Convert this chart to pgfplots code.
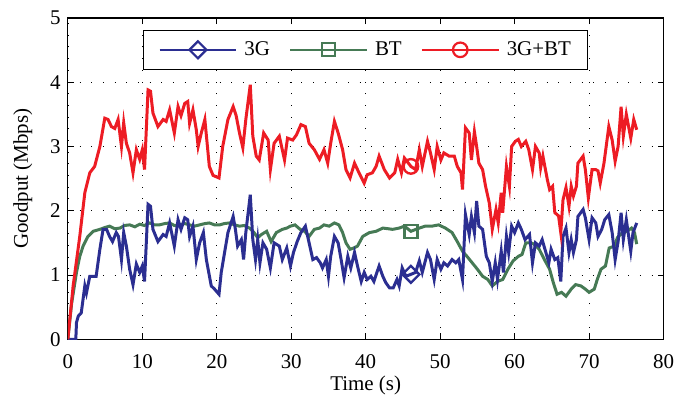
\documentclass[border=0pt]{standalone}
\usepackage{fontspec}
\setmainfont{Liberation Serif}
\usepackage{pgfplots}
\pgfplotsset{compat=1.18}
\definecolor{c3g}{RGB}{43,46,145}
\definecolor{cbt}{RGB}{70,122,85}
\definecolor{cboth}{RGB}{237,28,36}
\begin{document}
\fontsize{21}{25}\selectfont
\begin{tikzpicture}
\begin{axis}[
  scale only axis, width=597pt, height=322pt,
  xmin=0, xmax=80, ymin=0, ymax=5,
  xtick={0,10,...,80}, ytick={0,1,2,3,4,5},
  grid=major,
  major grid style={black, line width=0.7pt, dash pattern=on 0.9pt off 10.8pt},
  tick align=inside, tick pos=both, major tick length=6pt,
  axis line style={line width=1.3pt},
  tick style={line width=0.8pt, black},
  font=\fontsize{21}{25}\selectfont,
  /pgf/number format/assume math mode=true,
  xticklabel style={yshift=-8pt},
  xlabel={Time (s)}, ylabel={Goodput (Mbps)},
  xlabel style={at={(axis description cs:0.5,-0.145)}, anchor=center},
  ylabel style={at={(axis description cs:-0.0754,0.5)}, anchor=center},
  legend style={at={(0.5,0.963)}, anchor=north, legend columns=3, draw=black, line width=1pt,
    font=\fontsize{21}{25}\selectfont, inner xsep=15pt, inner ysep=9pt,
    /tikz/every odd column/.append style={column sep=5pt},
    /tikz/every even column/.append style={column sep=17pt}},
  legend image code/.code={\draw[mark repeat=2,mark phase=2,#1] plot coordinates {(0pt,0pt) (38.5pt,0pt) (77pt,0pt)};},
]
\addlegendimage{c3g, line width=2.2pt, mark=square, mark size=6pt, mark options={rotate=45, fill=white, solid}}
\addlegendimage{cbt, line width=2.2pt, mark=square, mark size=6.5pt, mark options={fill=white, solid}}
\addlegendimage{cboth, line width=2.2pt, mark=o, mark size=7.3pt, mark options={fill=white, solid}}
\legend{3G, BT, 3G+BT}

% BT
\addplot[cbt, line width=3pt, forget plot] coordinates {
(0,0) (0.5,0.55) (1.16,1.04) (1.6,1.29) (2.05,1.45) (2.7,1.6) (3.4,1.68) (4.3,1.71) (5.0,1.74) (5.6,1.76) (6.3,1.72) (7.0,1.73) (7.6,1.77) (8.3,1.78) (9.0,1.75) (9.65,1.79) (10.3,1.77) (11.0,1.81) (11.6,1.78) (12.3,1.78) (13.0,1.8) (13.67,1.81) (14.3,1.77) (15.0,1.78) (15.7,1.8) (16.35,1.78) (17.0,1.76) (17.7,1.78) (18.4,1.8) (19.0,1.81) (19.7,1.78) (20.4,1.78) (21.0,1.8) (21.7,1.81) (22.4,1.78) (23.05,1.76) (23.7,1.77) (24.4,1.73) (25.0,1.66) (25.5,1.58) (26.0,1.63) (26.7,1.68) (27.3,1.52) (28.0,1.66) (28.8,1.71) (29.4,1.73) (29.9,1.76) (30.5,1.78) (31.2,1.71) (31.8,1.68) (32.4,1.6) (33.1,1.71) (33.8,1.73) (34.4,1.78) (35.1,1.76) (35.8,1.81) (36.4,1.78) (36.9,1.66) (37.35,1.5) (37.9,1.4) (38.4,1.42) (38.9,1.45) (39.6,1.6) (40.5,1.66) (41.4,1.68) (42.3,1.73) (43.0,1.72) (43.6,1.71) (44.5,1.73) (45.2,1.76) (46.07,1.68) (47.2,1.73) (48.0,1.76) (48.9,1.76) (49.8,1.78) (50.7,1.73) (51.6,1.66) (52.3,1.52) (53.0,1.37) (53.6,1.29) (54.3,1.19) (55.0,1.09) (55.7,0.98) (56.4,0.93) (57.0,0.83) (57.7,0.9) (58.4,0.93) (59.1,1.09) (59.8,1.22) (60.5,1.29) (61.0,1.32) (61.5,1.5) (62.2,1.5) (62.6,1.48) (63.3,1.4) (64.0,1.24) (64.7,1.09) (65.2,0.88) (65.7,0.7) (66.3,0.73) (66.9,0.67) (67.6,0.78) (68.2,0.85) (68.9,0.83) (69.5,0.78) (70.0,0.73) (70.7,0.78) (71.1,0.93) (71.6,1.09) (72.2,1.14) (72.7,1.42) (73.4,1.45) (73.8,1.58) (74.5,1.66) (75.1,1.68) (75.7,1.73) (76.1,1.66) (76.4,1.48)
};
% 3G
\addplot[c3g, line width=3pt, forget plot] coordinates {
(0,0) (1.07,0) (1.16,0.26) (1.4,0.36) (1.8,0.41) (2.28,0.83) (2.5,0.72) (2.95,0.98) (3.4,0.98) (3.8,0.98) (4.3,1.4) (4.73,1.71) (5.2,1.71) (5.6,1.6) (6.0,1.52) (6.5,1.66) (6.8,1.6) (7.2,1.24) (7.5,1.66) (7.86,1.45) (8.3,1.09) (8.75,0.85) (9.2,1.17) (9.65,1.04) (10.0,1.14) (10.3,0.9) (10.77,2.1) (11.1,2.07) (11.43,1.71) (12.1,1.52) (12.8,1.63) (13.2,1.6) (13.67,1.81) (14.3,1.45) (14.8,1.86) (15.2,1.71) (15.7,1.89) (16.1,1.86) (16.35,1.6) (16.8,1.76) (17.25,1.24) (17.7,1.5) (18.2,1.66) (18.6,1.24) (19.26,0.83) (19.7,0.78) (20.3,0.7) (20.6,1.04) (21.05,1.35) (21.5,1.66) (22.2,1.91) (22.5,1.71) (22.8,1.45) (23.3,1.55) (23.6,1.24) (23.9,1.66) (24.5,2.25) (24.84,1.55) (25.2,1.24) (25.5,1.55) (25.8,1.19) (26.2,1.5) (26.7,1.4) (27.2,1.11) (27.7,1.5) (28.4,1.45) (28.8,1.24) (29.4,1.42) (29.9,1.14) (30.3,1.35) (30.8,1.52) (31.3,1.66) (31.9,1.76) (32.4,1.5) (32.9,1.24) (33.4,1.27) (33.9,1.19) (34.2,1.11) (34.7,1.24) (35.0,0.98) (35.3,1.29) (35.8,1.6) (36.3,1.5) (36.7,1.24) (37.1,0.96) (37.6,1.29) (38.0,1.11) (38.5,1.35) (38.9,1.14) (39.4,0.9) (39.8,1.04) (40.2,0.93) (40.7,0.98) (41.1,0.9) (41.8,1.14) (42.3,0.98) (42.7,0.88) (43.2,0.8) (43.7,0.8) (44.2,0.93) (44.5,0.83) (44.9,1.11) (45.4,0.98) (46.07,1.01) (46.7,1.04) (47.2,1.22) (47.6,1.04) (48.3,1.35) (48.7,1.24) (49.2,0.93) (49.6,1.24) (50.1,1.09) (50.5,1.19) (51.0,1.14) (51.6,1.24) (52.1,1.19) (52.5,1.24) (53.0,0.93) (53.4,1.94) (53.9,1.63) (54.2,1.91) (54.6,1.66) (54.9,2.15) (55.2,1.76) (55.7,1.71) (56.2,1.29) (56.6,1.19) (57.0,0.9) (57.4,1.19) (57.7,0.93) (58.2,1.37) (58.5,1.04) (58.9,1.6) (59.2,1.35) (59.6,1.76) (60.0,1.66) (60.5,1.81) (60.9,1.71) (61.4,1.55) (62.0,1.63) (62.4,1.19) (62.8,1.5) (63.3,1.45) (63.7,1.55) (64.2,1.35) (64.6,1.19) (64.9,1.4) (65.4,1.24) (65.8,1.27) (66.2,0.9) (66.5,1.6) (66.9,1.73) (67.3,1.35) (67.6,1.55) (67.9,1.35) (68.3,1.55) (68.5,1.91) (69.2,2.02) (69.5,1.89) (70.0,1.55) (70.4,1.89) (70.9,1.81) (71.2,1.6) (71.7,1.71) (72.1,1.86) (72.65,1.94) (73.1,1.66) (73.5,1.24) (73.9,1.52) (74.3,1.97) (74.6,1.55) (75.0,1.86) (75.6,1.37) (75.9,1.66) (76.4,1.81)
};
% 3G+BT
\addplot[cboth, line width=3pt, forget plot] coordinates {
(0,0) (0.71,0.83) (1.6,1.6) (2.28,2.28) (2.95,2.59) (3.6,2.69) (4.3,3.0) (4.96,3.44) (5.4,3.42) (5.85,3.31) (6.3,3.28) (6.75,3.42) (7.2,3.0) (7.5,3.37) (7.86,3.05) (8.3,2.9) (8.75,2.59) (9.2,2.95) (9.65,2.8) (10.0,2.95) (10.3,2.64) (10.77,3.88) (11.1,3.86) (11.43,3.52) (12.1,3.31) (12.8,3.42) (13.2,3.39) (13.67,3.57) (14.3,3.21) (14.8,3.62) (15.2,3.48) (15.7,3.67) (16.1,3.7) (16.35,3.36) (16.8,3.57) (17.25,3.26) (17.5,3.0) (17.9,3.2) (18.4,3.42) (19.0,2.69) (19.5,2.55) (20.3,2.51) (20.8,3.0) (21.5,3.42) (22.2,3.62) (22.6,3.48) (23.05,3.21) (23.5,2.98) (23.9,3.42) (24.5,3.96) (24.84,3.16) (25.3,2.85) (25.7,2.79) (26.3,3.21) (26.9,3.1) (27.2,2.64) (27.7,3.05) (28.4,3.16) (29.1,2.79) (29.5,3.13) (30.2,3.1) (30.7,3.18) (31.3,3.34) (31.9,3.31) (32.4,3.05) (33.1,2.95) (33.8,2.8) (34.4,2.95) (34.9,2.74) (35.3,3.05) (35.8,3.39) (36.3,3.21) (36.9,2.95) (37.35,2.64) (37.9,2.51) (38.5,2.74) (39.1,2.59) (39.8,2.43) (40.2,2.56) (40.9,2.59) (41.4,2.69) (41.8,2.85) (42.5,2.64) (43.2,2.51) (43.9,2.59) (44.3,2.8) (44.8,2.59) (45.2,2.82) (46.07,2.69) (46.7,2.64) (47.2,2.95) (47.6,2.69) (48.3,3.08) (48.7,2.9) (49.2,2.64) (49.6,3.0) (50.1,2.79) (50.5,2.9) (51.2,2.85) (51.9,2.85) (52.3,2.69) (52.8,2.59) (53.0,2.33) (53.4,3.29) (53.9,3.21) (54.2,2.79) (54.6,3.23) (54.9,3.0) (55.2,2.74) (55.7,2.64) (56.1,2.38) (56.6,2.12) (57.0,1.71) (57.5,2.02) (57.8,1.81) (58.2,2.28) (58.4,1.97) (58.9,2.69) (59.3,2.38) (59.6,3.0) (60.1,3.08) (60.5,3.11) (60.9,3.0) (61.5,3.08) (61.9,2.95) (62.4,2.64) (62.8,3.0) (63.3,2.9) (63.5,2.67) (63.8,2.85) (64.4,2.48) (64.7,2.33) (65.1,2.38) (65.4,1.97) (65.9,1.92) (66.2,1.66) (66.5,2.17) (66.9,2.36) (67.3,2.07) (67.6,2.38) (67.9,2.23) (68.3,2.38) (68.5,2.74) (69.2,2.85) (69.5,2.64) (69.9,2.2) (70.4,2.64) (70.9,2.64) (71.2,2.62) (71.5,2.43) (72.0,2.74) (72.65,3.31) (73.1,3.1) (73.5,2.77) (73.9,3.0) (74.3,3.62) (74.6,3.16) (75.0,3.5) (75.6,3.13) (76.0,3.42) (76.4,3.26)
};
% single markers on the series
\addplot[c3g, line width=2.4pt, only marks, mark=square, mark size=6pt, mark options={rotate=45, fill=white}, forget plot] coordinates {(46.07,1.01)};
\addplot[cbt, line width=2.4pt, only marks, mark=square, mark size=6.5pt, mark options={fill=white}, forget plot] coordinates {(46.07,1.68)};
\addplot[cboth, line width=2.4pt, only marks, mark=o, mark size=7.3pt, mark options={fill=white}, forget plot] coordinates {(46.07,2.69)};
\end{axis}
\path (current axis.south west) ++(-68pt,-60pt);
\path (current axis.north east) ++(16pt,18pt);
\end{tikzpicture}
\end{document}
